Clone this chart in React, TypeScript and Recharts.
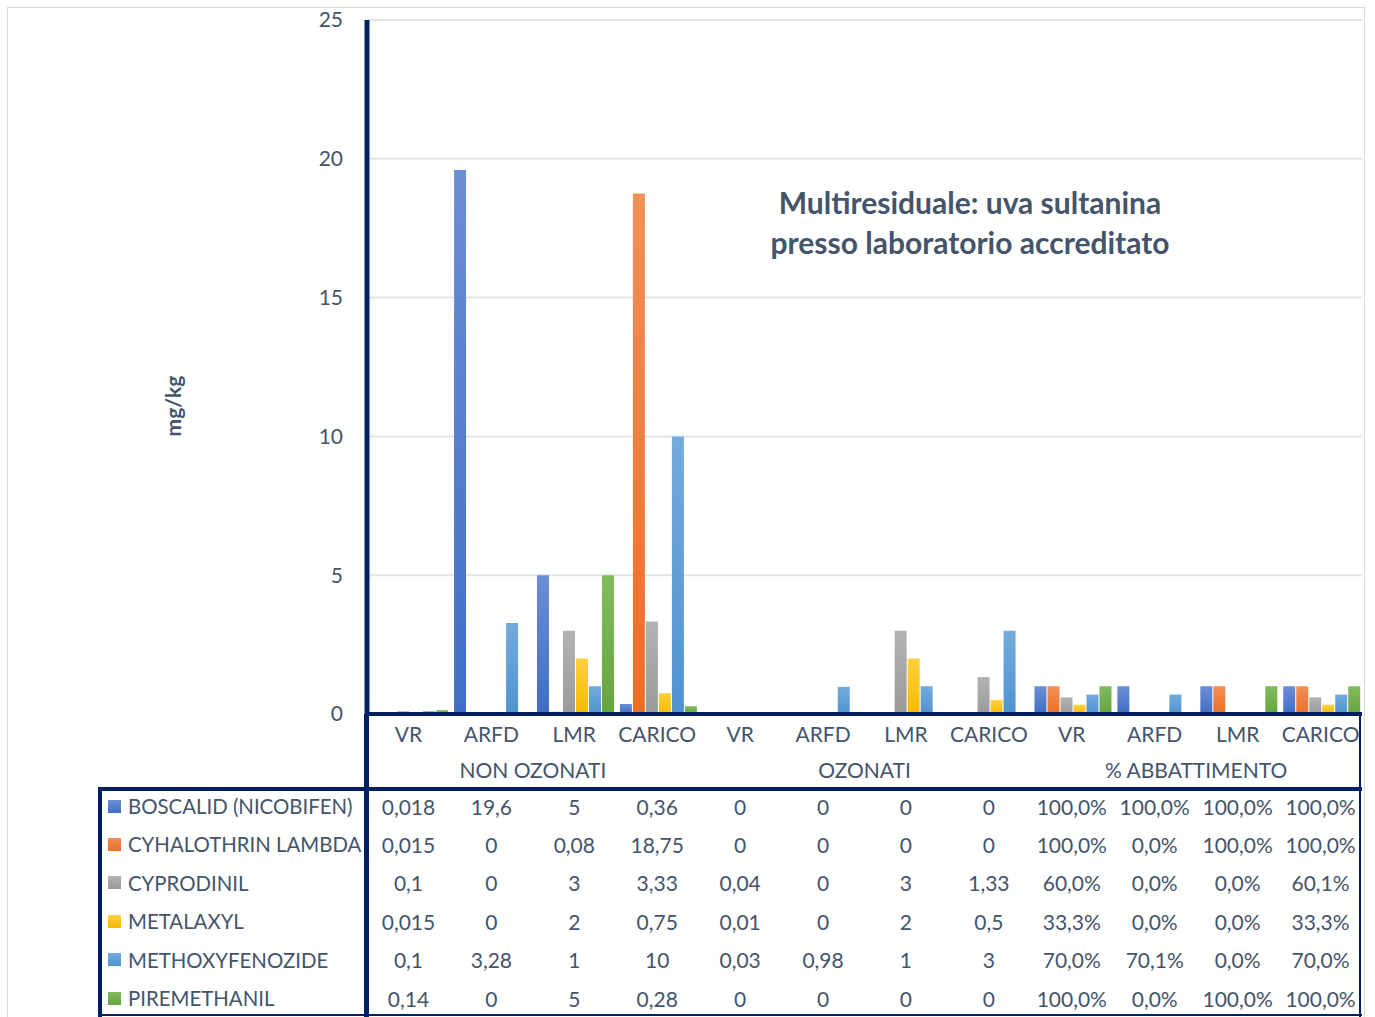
import React from 'react';
import { BarChart, Bar, XAxis, YAxis, CartesianGrid } from 'recharts';

const categories = ['VR', 'ARFD', 'LMR', 'CARICO', 'VR', 'ARFD', 'LMR', 'CARICO', 'VR', 'ARFD', 'LMR', 'CARICO'];
const groups = ['NON OZONATI', 'OZONATI', '% ABBATTIMENTO'];

// mg/kg for the first 8 columns, fraction (1 = 100%) for the last 4
const boscalid = [0.018, 19.6, 5, 0.36, 0, 0, 0, 0, 1, 1, 1, 1];
const cyhalothrin = [0.015, 0, 0.08, 18.75, 0, 0, 0, 0, 1, 0, 1, 1];
const cyprodinil = [0.1, 0, 3, 3.33, 0.04, 0, 3, 1.33, 0.6, 0, 0, 0.601];
const metalaxyl = [0.015, 0, 2, 0.75, 0.01, 0, 2, 0.5, 0.333, 0, 0, 0.333];
const methoxyfenozide = [0.1, 3.28, 1, 10, 0.03, 0.98, 1, 3, 0.7, 0.701, 0, 0.7];
const piremethanil = [0.14, 0, 5, 0.28, 0, 0, 0, 0, 1, 0, 1, 1];
const yTicks = [0, 5, 10, 15, 20, 25];

const series = [
  { key: 'boscalid', name: 'BOSCALID (NICOBIFEN)', values: boscalid, color: '#3F6EC6', light: '#6B8ED4' },
  { key: 'cyhalothrin', name: 'CYHALOTHRIN LAMBDA', values: cyhalothrin, color: '#EA6F25', light: '#F28F57' },
  { key: 'cyprodinil', name: 'CYPRODINIL', values: cyprodinil, color: '#9A9A9A', light: '#B3B3B3' },
  { key: 'metalaxyl', name: 'METALAXYL', values: metalaxyl, color: '#F5BA00', light: '#FFD040' },
  { key: 'methoxyfenozide', name: 'METHOXYFENOZIDE', values: methoxyfenozide, color: '#4F93D2', light: '#74AADD' },
  { key: 'piremethanil', name: 'PIREMETHANIL', values: piremethanil, color: '#64A53D', light: '#82BB5E' },
];

const data = categories.map((c, i) => {
  const row: any = { idx: i, cat: c };
  series.forEach((s) => (row[s.key] = s.values[i]));
  return row;
});

const TEXT = '#44546A';
const NAVY = '#002060';
const FONT = 'Lato, "Open Sans", sans-serif';
const PLOT_LEFT = 367;
const PLOT_RIGHT = 1362;
const BAND = (PLOT_RIGHT - PLOT_LEFT) / categories.length;
const ROW_Y = 806;
const ROW_H = 38.4;

const fmt = (v: number, i: number) =>
  i < 8 ? String(v).replace('.', ',') : (v * 100).toFixed(1).replace('.', ',') + '%';

function CatTick(props: any) {
  const { x, payload } = props;
  const i = Number(payload.value);
  return (
    <g fontFamily={FONT} fill={TEXT}>
      <text x={x} y={733} textAnchor="middle" dominantBaseline="central" fontSize={21} fill={TEXT}>
        {categories[i]}
      </text>
      {i % 4 === 1 && (
        <text x={x + BAND / 2} y={769} textAnchor="middle" dominantBaseline="central" fontSize={21} fill={TEXT}>
          {groups[(i - 1) / 4]}
        </text>
      )}
      {series.map((s, r) => (
        <text key={s.key} x={x} y={ROW_Y + r * ROW_H} textAnchor="middle" dominantBaseline="central" fontSize={21} fill={TEXT}>
          {fmt(s.values[i], i)}
        </text>
      ))}
    </g>
  );
}

const line = (left: number, top: number, width: number, height: number, color = NAVY): React.CSSProperties => ({
  position: 'absolute',
  left,
  top,
  width,
  height,
  background: color,
  pointerEvents: 'none',
});

export default function App() {
  return (
    <div style={{ position: 'absolute', left: 0, top: 0, width: 1375, height: 1017, background: '#fff', fontFamily: FONT, overflow: 'hidden' }}>
      <div style={{ position: 'absolute', left: 7, top: 7, width: 1356, height: 1015, border: '1px solid #D9D9D9', borderBottom: 'none' }} />
      <div style={{ position: 'absolute', left: 0, top: 0 }}>
        <BarChart
          width={1375}
          height={1017}
          data={data}
          margin={{ top: 20, right: 1375 - PLOT_RIGHT, bottom: 0, left: 0 }}
          barCategoryGap="5%"
          barGap={1}
        >
          <defs>
            {series.map((s) => (
              <linearGradient key={s.key} id={`g-${s.key}`} x1="0" y1="0" x2="0" y2="1">
                <stop offset="0%" stopColor={s.light} />
                <stop offset="100%" stopColor={s.color} />
              </linearGradient>
            ))}
          </defs>
          <CartesianGrid vertical={false} stroke="#E1E5EB" strokeWidth={2} />
          <XAxis
            dataKey="idx"
            type="category"
            height={1017 - 714}
            interval={0}
            tickLine={false}
            axisLine={{ stroke: NAVY, strokeWidth: 4 }}
            tick={<CatTick />}
          />
          <YAxis
            width={PLOT_LEFT}
            domain={[0, 25]}
            ticks={yTicks}
            tickLine={false}
            tickSize={0}
            tickMargin={24}
            axisLine={{ stroke: NAVY, strokeWidth: 5 }}
            tick={{ fill: TEXT, fontSize: 21, fontFamily: FONT }}
          />
          {series.map((s) => (
            <Bar key={s.key} dataKey={s.key} name={s.name} fill={`url(#g-${s.key})`} isAnimationActive={false} />
          ))}
        </BarChart>
      </div>

      {/* data table borders */}
      <div style={line(364, 714, 5, 303)} />
      <div style={line(98, 787, PLOT_RIGHT - 98, 4)} />
      <div style={line(98, 787, 4, 230)} />
      <div style={line(98, 1014, PLOT_RIGHT - 98, 2)} />
      <div style={line(1359, 714, 2, 303)} />

      {/* legend keys */}
      {series.map((s, r) => (
        <div
          key={s.key}
          style={{ position: 'absolute', left: 108, top: ROW_Y + r * ROW_H - 14, height: 28, display: 'flex', alignItems: 'center', color: TEXT, fontSize: 20.4, whiteSpace: 'nowrap' }}
        >
          <span style={{ display: 'inline-block', width: 13, height: 13, marginRight: 7, background: `linear-gradient(${s.light}, ${s.color})` }} />
          {s.name}
        </div>
      ))}

      <div
        style={{ position: 'absolute', left: 172, top: 406, transform: 'translate(-50%, -50%) rotate(-90deg)', color: TEXT, fontWeight: 700, fontSize: 21 }}
      >
        mg/kg
      </div>

      <div
        style={{ position: 'absolute', left: 720, top: 182, width: 500, textAlign: 'center', color: TEXT, fontWeight: 700, fontSize: 30, lineHeight: '40px' }}
      >
        Multiresiduale: uva sultanina
        <br />
        presso laboratorio accreditato
      </div>
    </div>
  );
}
